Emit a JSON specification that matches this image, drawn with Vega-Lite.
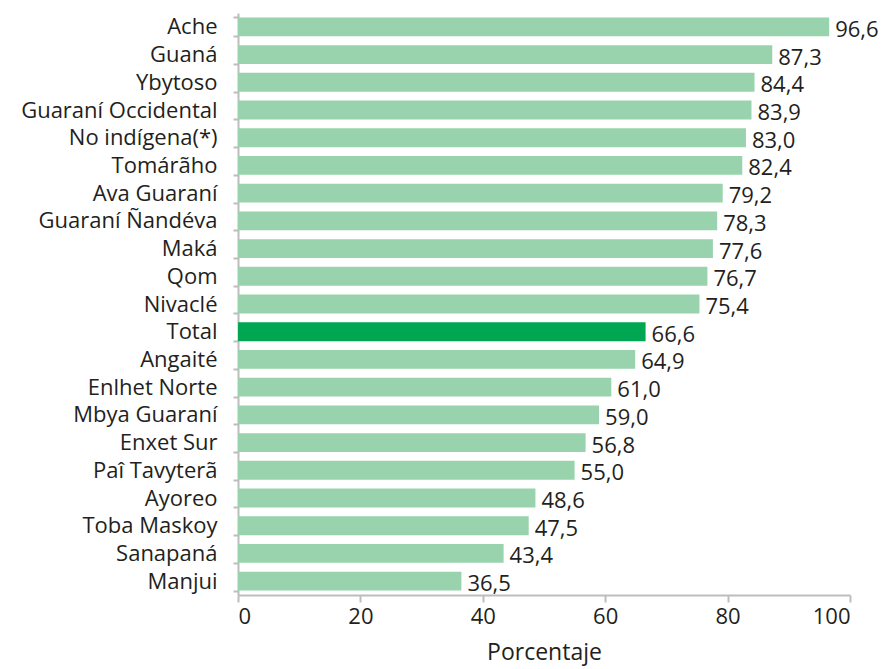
{
  "$schema": "https://vega.github.io/schema/vega-lite/v6.json",
  "autosize": "none",
  "width": 612,
  "height": 582,
  "padding": {"left": 238, "top": 13, "right": 33, "bottom": 74},
  "background": "white",
  "config": {
    "view": {"stroke": null},
    "font": "Open Sans",
    "locale": {"number": {"decimal": ",", "thousands": ".", "grouping": [3], "currency": ["", ""]}},
    "axis": {"labelFont": "Open Sans", "titleFont": "Open Sans", "labelColor": "#231F20", "titleColor": "#231F20", "domainColor": "#BDBDBD", "tickColor": "#BDBDBD", "domainWidth": 2, "tickWidth": 2, "grid": false}
  },
  "data": {
    "values": [
      {"grupo": "Ache", "valor": 96.6, "tipo": "g"},
      {"grupo": "Guaná", "valor": 87.3, "tipo": "g"},
      {"grupo": "Ybytoso", "valor": 84.4, "tipo": "g"},
      {"grupo": "Guaraní Occidental", "valor": 83.9, "tipo": "g"},
      {"grupo": "No indígena(*)", "valor": 83.0, "tipo": "g"},
      {"grupo": "Tomárãho", "valor": 82.4, "tipo": "g"},
      {"grupo": "Ava Guaraní", "valor": 79.2, "tipo": "g"},
      {"grupo": "Guaraní Ñandéva", "valor": 78.3, "tipo": "g"},
      {"grupo": "Maká", "valor": 77.6, "tipo": "g"},
      {"grupo": "Qom", "valor": 76.7, "tipo": "g"},
      {"grupo": "Nivaclé", "valor": 75.4, "tipo": "g"},
      {"grupo": "Total", "valor": 66.6, "tipo": "t"},
      {"grupo": "Angaité", "valor": 64.9, "tipo": "g"},
      {"grupo": "Enlhet Norte", "valor": 61.0, "tipo": "g"},
      {"grupo": "Mbya Guaraní", "valor": 59.0, "tipo": "g"},
      {"grupo": "Enxet Sur", "valor": 56.8, "tipo": "g"},
      {"grupo": "Paî Tavyterã", "valor": 55.0, "tipo": "g"},
      {"grupo": "Ayoreo", "valor": 48.6, "tipo": "g"},
      {"grupo": "Toba Maskoy", "valor": 47.5, "tipo": "g"},
      {"grupo": "Sanapaná", "valor": 43.4, "tipo": "g"},
      {"grupo": "Manjui", "valor": 36.5, "tipo": "g"}
    ]
  },
  "encoding": {
    "y": {
      "field": "grupo", "type": "nominal", "sort": null,
      "scale": {"paddingInner": 0.32, "paddingOuter": 0.16},
      "axis": {"title": null, "tickBand": "extent", "tickSize": 5, "labelPadding": 16, "labelFontSize": 22, "labelLimit": 300}
    },
    "x": {
      "field": "valor", "type": "quantitative",
      "scale": {"domain": [0, 100], "nice": false},
      "axis": {"title": "Porcentaje", "values": [0, 20, 40, 60, 80, 100], "tickSize": 7, "labelPadding": 4, "labelFontSize": 22, "titleFontSize": 23, "titleFontWeight": "normal", "titlePadding": 14}
    }
  },
  "layer": [
    {
      "mark": {"type": "bar"},
      "encoding": {
        "color": {"field": "tipo", "type": "nominal", "scale": {"domain": ["g", "t"], "range": ["#99D3AE", "#00A651"]}, "legend": null}
      }
    },
    {
      "mark": {"type": "text", "align": "left", "baseline": "alphabetic", "dx": 6, "dy": 10, "fontSize": 22, "color": "#231F20"},
      "encoding": {
        "text": {"field": "valor", "type": "quantitative", "format": ".1f"}
      }
    }
  ]
}
